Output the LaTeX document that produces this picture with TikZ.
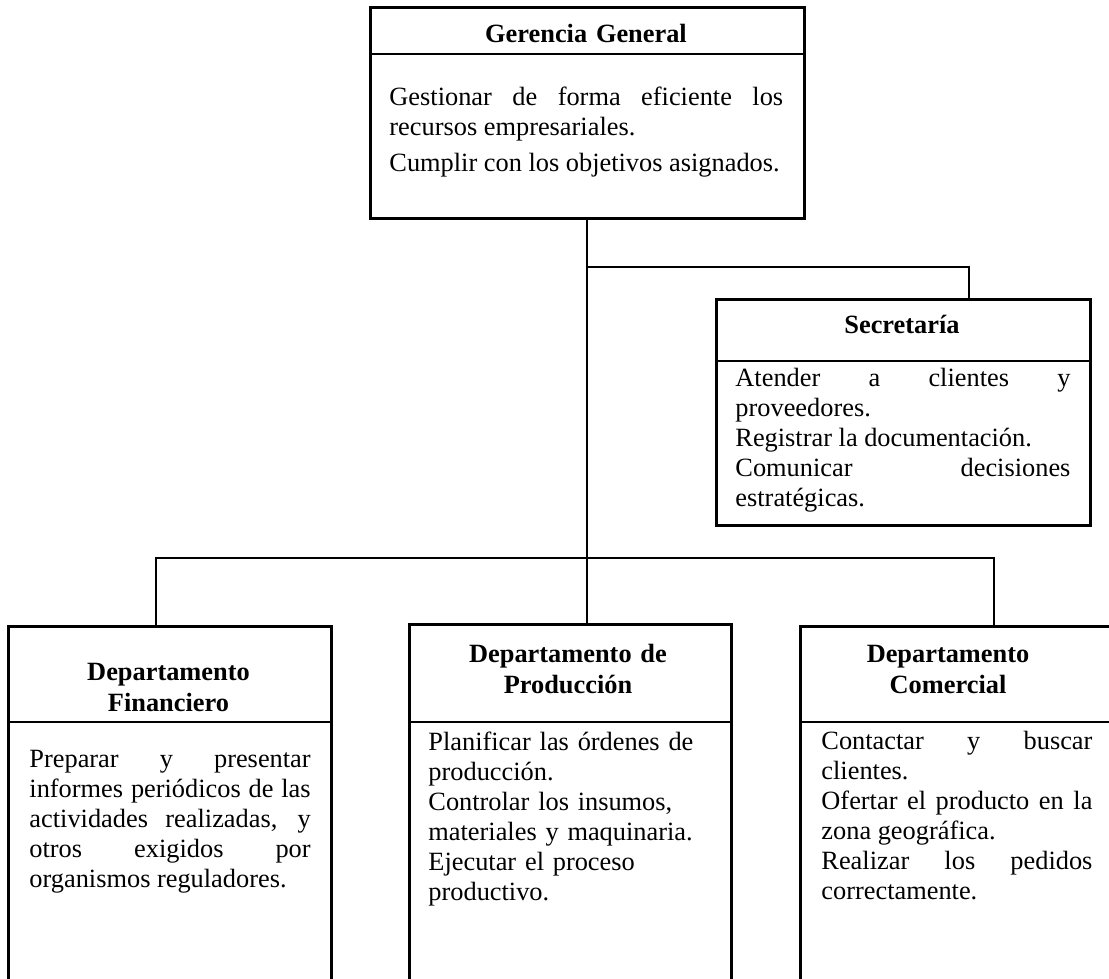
\documentclass[tikz,border=0pt]{standalone}
\usepackage{fontspec}
\setmainfont{Liberation Serif}
\hyphenpenalty=10000
\exhyphenpenalty=10000
\tolerance=10000

\begin{document}
\begin{tikzpicture}[
  every node/.style={font=\fontsize{12}{13.7}\selectfont, inner sep=0pt},
  caja/.style={draw, line width=1.2pt, anchor=north west},
  titulo/.style={font=\fontsize{12}{14.5}\selectfont\bfseries, align=center, anchor=base},
  texto/.style={align=justify, anchor=base west},
  division/.style={line width=0.7pt},
  conector/.style={line width=0.8pt}
]
  \useasboundingbox (0,0) rectangle (17.744,-15.648);
  \clip (0,0) rectangle (17.744,-15.648);

  % cajas
  \node[caja, minimum width=6.944cm, minimum height=3.376cm] (ger) at (5.904,-0.096) {};
  \node[caja, minimum width=5.984cm, minimum height=3.616cm] (sec) at (11.44,-4.768) {};
  \node[caja, minimum width=5.168cm, minimum height=6.2cm] (fin) at (0.112,-10.0) {};
  \node[caja, minimum width=5.152cm, minimum height=6.2cm] (prod) at (6.528,-9.968) {};
  \node[caja, minimum width=5.216cm, minimum height=6.2cm] (com) at (12.784,-10.0) {};

  % lineas bajo los titulos
  \draw[division] ([yshift=-0.768cm]ger.north west) -- ([yshift=-0.768cm]ger.north east);
  \draw[division] ([yshift=-1.008cm]sec.north west) -- ([yshift=-1.008cm]sec.north east);
  \draw[division] ([yshift=-1.552cm]fin.north west) -- ([yshift=-1.552cm]fin.north east);
  \draw[division] ([yshift=-1.584cm]prod.north west) -- ([yshift=-1.584cm]prod.north east);
  \draw[division] ([yshift=-1.552cm]com.north west) -- ([yshift=-1.552cm]com.north east);

  % titulos
  \node[titulo, text width=6.5cm] (gerT) at (9.376,-0.672) {Gerencia General};
  \node[titulo, text width=5.6cm] (secT) at (14.432,-5.328) {Secretaría};
  \node[titulo, text width=4.8cm] (finT) at (2.696,-10.88) {Departamento\\Financiero};
  \node[titulo, text width=4.8cm] (prodT) at (9.088,-10.592) {Departamento de\\Producción};
  \node[titulo, text width=4.8cm] (comT) at (15.168,-10.592) {Departamento\\Comercial};

  % funciones
  \node[texto, text width=6.3cm] (gerF) at (6.224,-1.68)
    {Gestionar de forma eficiente los recursos empresariales.\par\vspace{3pt}
     Cumplir con los objetivos asignados.};
  \node[texto, text width=5.36cm] (secF) at (11.76,-6.176)
    {Atender a clientes y proveedores.\par
     Registrar la documentación.\par
     Comunicar decisiones estratégicas.};
  \node[texto, text width=4.5cm] (finF) at (0.464,-12.272)
    {Preparar y presentar\linebreak informes periódicos de las\linebreak
     actividades realizadas, y\linebreak otros exigidos por\linebreak
     organismos reguladores.};
  \node[texto, align=left, text width=4.8cm] (prodF) at (6.848,-12.0)
    {Planificar las órdenes de\\producción.\\Controlar los insumos,\\materiales y maquinaria.\\Ejecutar el proceso\\productivo.};
  \node[texto, text width=4.336cm] (comF) at (13.136,-11.984)
    {Contactar y buscar clientes.\par
     Ofertar el producto en la zona geográfica.\par
     Realizar los pedidos correctamente.};

  % conectores
  \coordinate (rama) at (9.376,-4.272);
  \coordinate (bus) at (9.376,-8.928);
  \draw[conector] (ger.south) -- (ger.south |- prod.north);
  \draw[conector] (rama) -| ([xshift=1.056cm]sec.north);
  \draw[conector] ([xshift=-0.216cm]fin.north) |- (bus) -| ([xshift=0.496cm]com.north);
\end{tikzpicture}
\end{document}
